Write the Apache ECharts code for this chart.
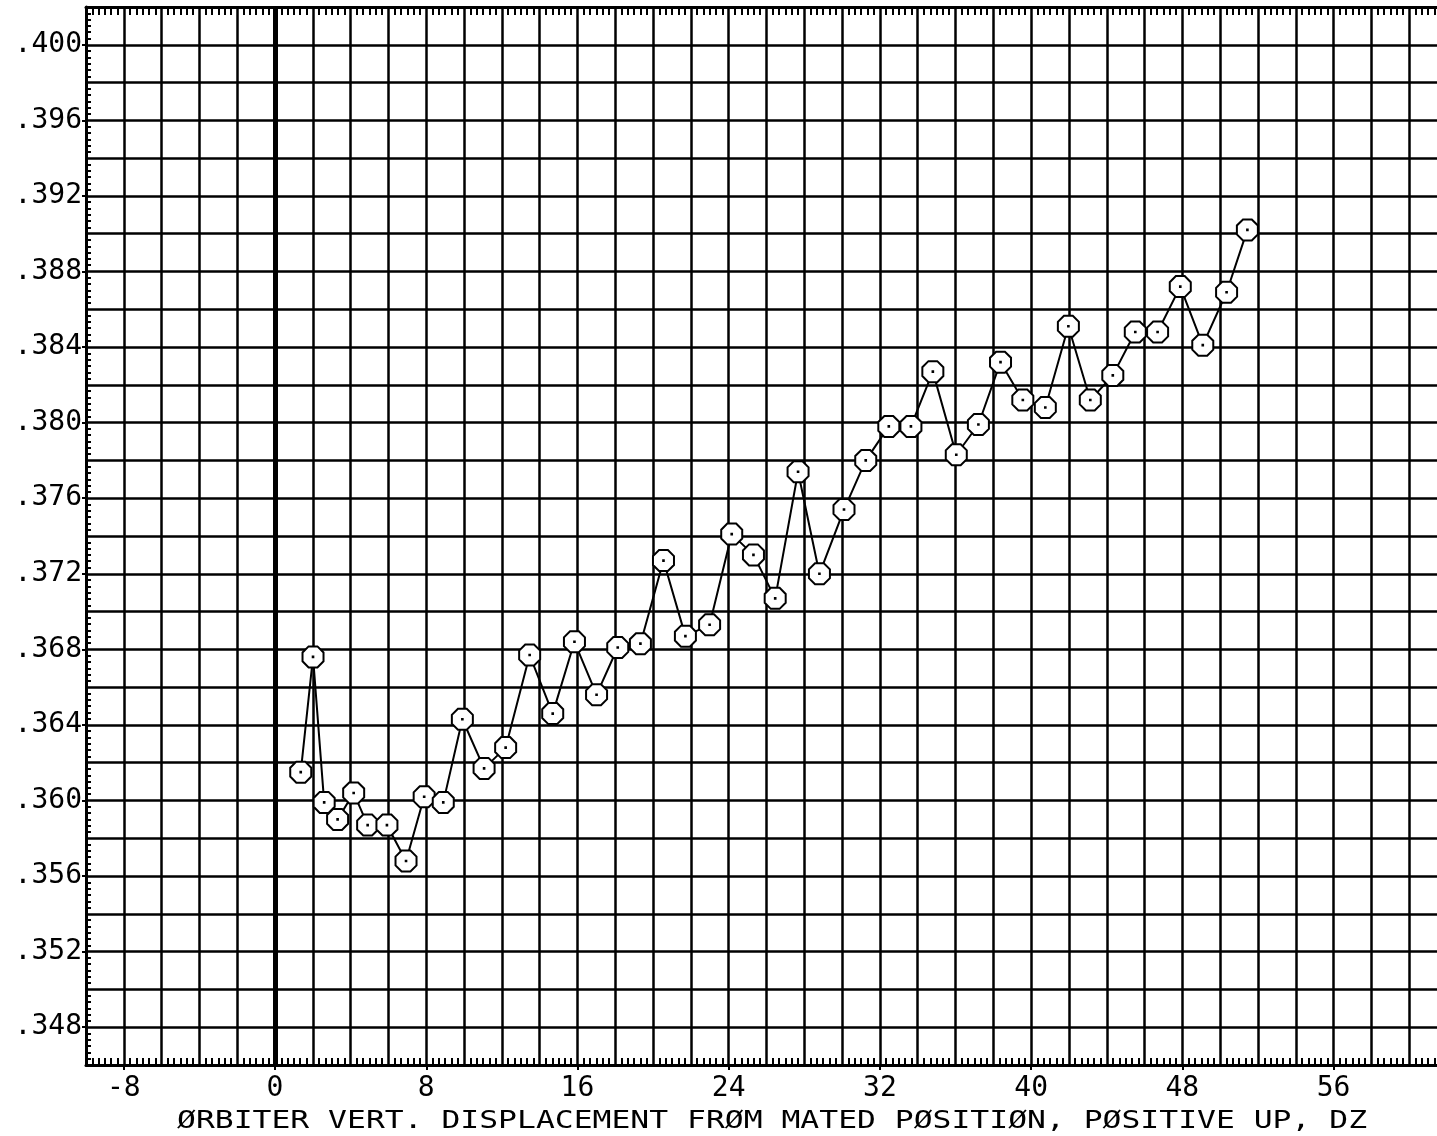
<!DOCTYPE html>
<html>
<head>
<meta charset="utf-8">
<script src="https://cdn.jsdelivr.net/npm/echarts@6/dist/echarts.min.js"></script>
<style>
  html, body { margin: 0; padding: 0; background: #fff; }
  #chart { width: 1437px; height: 1136px; }
</style>
</head>
<body>
<div id="chart"></div>
<script>
// ---- data ----
const xTickLabels = [-8, 0, 8, 16, 24, 32, 40, 48, 56];
const yTickLabels = [0.348, 0.352, 0.356, 0.360, 0.364, 0.368, 0.372, 0.376, 0.380, 0.384, 0.388, 0.392, 0.396, 0.400];
const dzValues = [1.36, 2.01, 2.60, 3.31, 4.16, 4.90, 5.92, 6.93, 7.89, 8.90,
                  9.91, 11.06, 12.20, 13.47, 14.69, 15.84, 17.01, 18.13, 19.33, 20.55,
                  21.71, 22.99, 24.16, 25.31, 26.46, 27.67, 28.80, 30.10, 31.25, 32.47,
                  33.64, 34.80, 36.04, 37.21, 38.38, 39.56, 40.75, 41.97, 43.13, 44.32,
                  45.51, 46.69, 47.89, 49.08, 50.34, 51.44];
const coefValues = [0.3615, 0.3676, 0.3599, 0.3590, 0.3604, 0.3587, 0.3587, 0.3568, 0.3602, 0.3599,
                    0.3643, 0.3617, 0.3628, 0.3677, 0.3646, 0.3684, 0.3656, 0.3681, 0.3683, 0.3727,
                    0.3687, 0.3693, 0.3741, 0.3730, 0.3707, 0.3774, 0.3720, 0.3754, 0.3780, 0.3798,
                    0.3798, 0.3827, 0.3783, 0.3799, 0.3832, 0.3812, 0.3808, 0.3851, 0.3812, 0.3825,
                    0.3848, 0.3848, 0.3872, 0.3841, 0.3869, 0.3902];
const xTitle = 'ØRBITER VERT. DISPLACEMENT FRØM MATED PØSITIØN, PØSITIVE UP, DZ';

const FONT = '"DejaVu Sans Mono", "Liberation Mono", monospace';
const points = dzValues.map((x, i) => [x, coefValues[i]]);
const octagon = 'path://M0.29,0L0.71,0L1,0.29L1,0.71L0.71,1L0.29,1L0,0.71L0,0.29Z' +
                'M0.485,0.485L0.515,0.485L0.515,0.515L0.485,0.515Z';

const XMIN = -10, XMAX = 62, YMIN = 0.346, YMAX = 0.402;
const black = '#000';

const chart = echarts.init(document.getElementById('chart'), null, { renderer: 'canvas' });
chart.setOption({
  animation: false,
  backgroundColor: '#fff',
  grid: { left: 86, top: 7, width: 1361, height: 1058, containLabel: false, outerBoundsMode: 'none' },
  xAxis: [
    { type: 'value', min: XMIN, max: XMAX, interval: 2, position: 'bottom',
      axisLine: { show: true, onZero: false, lineStyle: { color: black, width: 3 } },
      axisTick: { show: false, inside: true },
      minorTick: { show: true, splitNumber: 6, length: 7, lineStyle: { color: black, width: 2 } },
      axisLabel: { show: false },
      splitLine: { show: true, lineStyle: { color: black, width: 2.5 } },
      minorSplitLine: { show: false } },
    { type: 'value', min: XMIN, max: XMAX, interval: 2, position: 'bottom',
      axisLine: { show: false, onZero: false },
      axisTick: { show: true, inside: false, length: 5, customValues: xTickLabels, lineStyle: { color: black, width: 2 } },
      axisLabel: { show: true, customValues: xTickLabels, margin: 10, color: black, fontFamily: FONT, fontSize: 28,
                   formatter: v => String(v) },
      splitLine: { show: false } },
    { type: 'value', min: XMIN, max: XMAX, interval: 2, position: 'top',
      axisLine: { show: true, onZero: false, lineStyle: { color: black, width: 3 } },
      axisTick: { show: false, inside: true },
      minorTick: { show: true, splitNumber: 6, length: 8, lineStyle: { color: black, width: 2 } },
      axisLabel: { show: false },
      splitLine: { show: false } }
  ],
  yAxis: [
    { type: 'value', min: YMIN, max: YMAX, interval: 0.002, position: 'left',
      axisLine: { show: true, onZero: false, lineStyle: { color: black, width: 3 } },
      axisTick: { show: false, inside: true },
      minorTick: { show: true, splitNumber: 6, length: 5, lineStyle: { color: black, width: 2 } },
      axisLabel: { show: false },
      splitLine: { show: true, lineStyle: { color: black, width: 2.5 } },
      minorSplitLine: { show: false } },
    { type: 'value', min: YMIN, max: YMAX, interval: 0.002, position: 'left',
      axisLine: { show: false, onZero: false },
      axisTick: { show: true, inside: false, length: 4, customValues: yTickLabels, lineStyle: { color: black, width: 2 } },
      axisLabel: { show: true, customValues: yTickLabels, margin: 4, color: black, fontFamily: FONT, fontSize: 28,
                   formatter: v => v.toFixed(3).replace(/^0/, '') },
      splitLine: { show: false } }
  ],
  series: [
    { type: 'line', xAxisIndex: 0, yAxisIndex: 0, data: points,
      symbol: octagon, symbolSize: 21, showAllSymbol: true,
      lineStyle: { color: black, width: 2 },
      itemStyle: { color: '#fff', borderColor: black, borderWidth: 2 },
      emphasis: { disabled: true }, silent: true, z: 5,
      markLine: { silent: true, symbol: 'none', label: { show: false },
                  lineStyle: { color: black, width: 5, type: 'solid' },
                  data: [{ xAxis: 0 }] } }
  ],
  graphic: [
    { type: 'text', x: 177, y: 1109, scaleX: 1.255, silent: true,
      style: { text: xTitle, fill: black, fontFamily: FONT, fontSize: 25, textAlign: 'left', textVerticalAlign: 'top' } }
  ]
});
</script>
</body>
</html>
